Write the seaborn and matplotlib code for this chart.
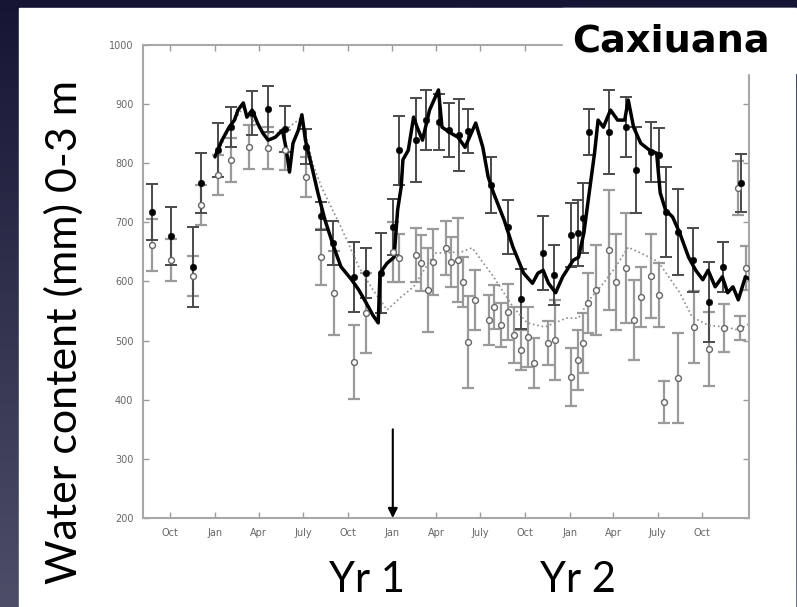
import numpy as np
import pandas as pd
import seaborn as sns
import matplotlib.pyplot as plt
import matplotlib.dates as mdates
from matplotlib.patches import Rectangle

# ==============================================================================
# DADOS - tempo em ano decimal, agua em mm (0-3 m)
# ==============================================================================

# linha continua - parcela controle
ctrl_line_t = [2001.00, 2001.04, 2001.08, 2001.11, 2001.13, 2001.16, 2001.18, 2001.21,
               2001.24, 2001.27, 2001.30, 2001.34, 2001.38, 2001.40, 2001.42, 2001.44,
               2001.47, 2001.49, 2001.51, 2001.55, 2001.58, 2001.62, 2001.67, 2001.71,
               2001.77, 2001.81, 2001.85, 2001.89, 2001.92, 2001.93, 2001.97, 2002.01,
               2002.03, 2002.05, 2002.06, 2002.09, 2002.12, 2002.14, 2002.17, 2002.21,
               2002.26, 2002.28, 2002.33, 2002.37, 2002.41, 2002.47, 2002.51, 2002.54,
               2002.57, 2002.63, 2002.68, 2002.74, 2002.79, 2002.82, 2002.85, 2002.88,
               2002.92, 2002.96, 2003.02, 2003.05, 2003.08, 2003.11, 2003.14, 2003.16,
               2003.19, 2003.23, 2003.27, 2003.31, 2003.33, 2003.36, 2003.40, 2003.45,
               2003.49, 2003.51, 2003.54, 2003.58, 2003.62, 2003.67, 2003.71, 2003.75,
               2003.78, 2003.82, 2003.86, 2003.89, 2003.92, 2003.95, 2003.99, 2004.02]
ctrl_line_mm = [811, 839, 861, 873, 890, 902, 878, 890,
                868, 851, 839, 844, 856, 827, 785, 834,
                856, 882, 839, 789, 750, 704, 658, 625,
                603, 586, 565, 543, 530, 614, 631, 641,
                721, 760, 806, 822, 878, 861, 839, 890,
                924, 861, 851, 844, 827, 868, 827, 777,
                750, 704, 658, 614, 597, 614, 619, 597,
                581, 608, 636, 641, 682, 750, 817, 873,
                861, 890, 873, 873, 907, 861, 834, 822,
                817, 750, 721, 709, 682, 641, 619, 603,
                619, 591, 608, 581, 591, 569, 608, 603]

# linha pontilhada - parcela de exclusao
excl_line_t = [2001.00, 2001.08, 2001.16, 2001.27, 2001.38, 2001.49, 2001.55, 2001.60,
               2001.71, 2001.81, 2001.89, 2001.97, 2002.00, 2002.05, 2002.12, 2002.18,
               2002.24, 2002.39, 2002.45, 2002.57, 2002.68, 2002.76, 2002.86, 2002.98,
               2003.05, 2003.11, 2003.19, 2003.26, 2003.33, 2003.45, 2003.50, 2003.62,
               2003.69, 2003.78, 2003.88, 2003.95, 2004.02]
excl_line_mm = [808, 858, 895, 850, 852, 878, 800, 760,
                692, 625, 586, 552, 560, 574, 591, 620,
                648, 650, 657, 608, 557, 530, 523, 538,
                538, 569, 597, 625, 658, 641, 633, 581,
                540, 526, 523, 518, 530]

# pontos manuais - controle (circulo cheio)
ctrl_pt_t = [2000.648, 2000.756, 2000.880, 2000.925, 2001.015, 2001.088, 2001.207, 2001.297,
             2001.393, 2001.511, 2001.596, 2001.664, 2001.782, 2001.850, 2001.934, 2002.002,
             2002.036, 2002.132, 2002.188, 2002.262, 2002.318, 2002.374, 2002.425, 2002.555,
             2002.651, 2002.724, 2002.848, 2002.910, 2003.006, 2003.046, 2003.074, 2003.108,
             2003.220, 2003.316, 2003.373, 2003.457, 2003.502, 2003.542, 2003.610, 2003.694,
             2003.784, 2003.863, 2003.965]
ctrl_pt_mm = [718, 677, 625, 767, 822, 861, 885, 892,
              858, 828, 711, 665, 608, 614, 614, 692,
              822, 839, 873, 870, 856, 848, 855, 763,
              692, 570, 648, 611, 679, 682, 707, 853,
              853, 861, 789, 819, 814, 718, 684, 636,
              565, 625, 767]
ctrl_pt_err = [47, 49, 68, 51, 46, 34, 37, 39,
               39, 30, 24, 37, 59, 42, 68, 47,
               58, 71, 51, 47, 46, 61, 37, 47,
               46, 51, 63, 51, 54, 56, 59, 39,
               71, 51, 73, 51, 46, 76, 73, 54,
               68, 42, 49]

# pontos manuais - exclusao (circulo aberto)
excl_pt_t = [2000.648, 2000.756, 2000.880, 2000.925, 2001.015, 2001.088, 2001.190, 2001.297,
             2001.393, 2001.511, 2001.596, 2001.669, 2001.782, 2001.850, 2002.002, 2002.036,
             2002.132, 2002.160, 2002.200, 2002.228, 2002.301, 2002.329, 2002.369, 2002.397,
             2002.425, 2002.465, 2002.544, 2002.572, 2002.611, 2002.651, 2002.685, 2002.724,
             2002.764, 2002.797, 2002.876, 2002.916, 2003.006, 2003.046, 2003.074, 2003.102,
             2003.147, 2003.220, 2003.260, 2003.316, 2003.361, 2003.401, 2003.457, 2003.502,
             2003.531, 2003.610, 2003.700, 2003.784, 2003.869, 2003.948, 2003.959, 2003.993]
excl_pt_mm = [662, 636, 609, 729, 780, 806, 828, 826,
              822, 777, 641, 581, 464, 547, 650, 640,
              645, 631, 586, 633, 657, 633, 636, 599,
              498, 569, 535, 557, 526, 548, 510, 484,
              506, 462, 496, 501, 439, 467, 496, 564,
              586, 653, 599, 623, 535, 574, 609, 577,
              396, 437, 523, 486, 521, 758, 521, 623]
excl_pt_err = [44, 36, 34, 34, 34, 37, 37, 36,
               34, 34, 47, 71, 63, 68, 51, 41,
               46, 47, 71, 56, 46, 42, 71, 42,
               78, 51, 42, 37, 37, 47, 47, 34,
               51, 42, 37, 68, 49, 51, 51, 51,
               76, 101, 81, 93, 68, 51, 71, 54,
               36, 76, 61, 63, 41, 46, 20, 37]

Y_TICKS = [200, 300, 400, 500, 600, 700, 800, 900, 1000]
X_TICKS = ["2000-10-01", "2001-01-01", "2001-04-01", "2001-07-01",
           "2001-10-01", "2002-01-01", "2002-04-01", "2002-07-01",
           "2002-10-01", "2003-01-01", "2003-04-01", "2003-07-01", "2003-10-01"]
X_LABELS = ["Oct", "Jan", "Apr", "July", "Oct", "Jan", "Apr", "July",
            "Oct", "Jan", "Apr", "July", "Oct"]


def to_date(years):
    out = []
    for y in years:
        base = int(y)
        out.append(pd.Timestamp(f"{base}-01-01") + pd.Timedelta(days=(y - base) * 365.25))
    return out


# ==============================================================================
# FIGURA
# ==============================================================================

sns.set_style("ticks")
plt.rcParams['font.family'] = ['DejaVu Sans']

W, H = 797, 607
fig = plt.figure(figsize=(W / 100, H / 100), dpi=100)

# fundo do slide (gradiente azul escuro) + painel branco
bg = fig.add_axes([0, 0, 1, 1], zorder=-10)
grad = np.linspace(0, 1, 256).reshape(-1, 1)
top_c = np.array([22, 22, 52]) / 255
bot_c = np.array([76, 78, 104]) / 255
img = top_c + grad[..., None] * (bot_c - top_c)
bg.imshow(img, aspect="auto", extent=[0, 1, 0, 1], origin="upper")
bg.add_patch(Rectangle((19 / W, 0), (795 - 19) / W, (H - 8) / H, color="white"))
bg.set_xlim(0, 1)
bg.set_ylim(0, 1)
bg.axis("off")

ax = fig.add_axes([143 / W, 1 - 518 / H, (749 - 143) / W, (518 - 45) / H])
ax.set_facecolor("white")

df_ctrl_line = pd.DataFrame({"data": to_date(ctrl_line_t), "agua": ctrl_line_mm})
df_excl_line = pd.DataFrame({"data": to_date(excl_line_t), "agua": excl_line_mm})
df_ctrl_pt = pd.DataFrame({"data": to_date(ctrl_pt_t), "agua": ctrl_pt_mm, "err": ctrl_pt_err})
df_excl_pt = pd.DataFrame({"data": to_date(excl_pt_t), "agua": excl_pt_mm, "err": excl_pt_err})

# barras de erro
ax.errorbar(df_excl_pt["data"], df_excl_pt["agua"], yerr=df_excl_pt["err"], fmt="none",
            ecolor="#9a9a9a", elinewidth=1.6, capsize=4, capthick=1.6, zorder=1)
ax.errorbar(df_ctrl_pt["data"], df_ctrl_pt["agua"], yerr=df_ctrl_pt["err"], fmt="none",
            ecolor="#4a4a4a", elinewidth=1.4, capsize=4, capthick=1.4, zorder=2)

# linhas continuas
sns.lineplot(data=df_excl_line, x="data", y="agua", ax=ax, color="#8c8c8c",
             linewidth=1.2, linestyle=":", zorder=2)
sns.lineplot(data=df_ctrl_line, x="data", y="agua", ax=ax, color="black",
             linewidth=2.5, zorder=3)

# pontos
sns.scatterplot(data=df_excl_pt, x="data", y="agua", ax=ax, marker="o", s=18,
                facecolor="white", edgecolor="#666666", linewidth=1.0, zorder=4)
sns.scatterplot(data=df_ctrl_pt, x="data", y="agua", ax=ax, marker="o", s=22,
                color="black", edgecolor="black", zorder=5)

ax.set_xlim(pd.Timestamp("2000-08-06"), pd.Timestamp("2004-01-05"))
ax.set_ylim(200, 1000)
ax.set_yticks(Y_TICKS)
ax.set_yticklabels([str(v) for v in Y_TICKS])
ax.set_xticks([mdates.date2num(pd.Timestamp(d)) for d in X_TICKS])
ax.set_xticklabels(X_LABELS)
ax.set_xlabel("")
ax.set_ylabel("")
ax.tick_params(direction="in", length=4, width=1, color="#9a9a9a",
               labelsize=7, labelcolor="#666666", top=True, right=True, pad=7)
for s in ax.spines.values():
    s.set_color("#a8a8a8")
    s.set_linewidth(1.5)

# seta no inicio da exclusao
ax.annotate("", xy=(pd.Timestamp("2002-01-02"), 200), xytext=(pd.Timestamp("2002-01-02"), 350),
            arrowprops=dict(arrowstyle="-|>", color="black", lw=1.5, mutation_scale=14,
                            shrinkA=0, shrinkB=0), zorder=6)

# caixa branca atras do titulo (corta o quadro)
fig.patches.append(Rectangle((563 / W, 1 - 73 / H), (796 - 563) / W, (73 - 8) / H,
                             transform=fig.transFigure, color="white", zorder=2))

fig.text(671 / W, 1 - 41 / H, "Caxiuana", ha="center", va="center", fontsize=27.5,
         fontweight="bold", family=["DejaVu Sans"], color="black", zorder=3)
fig.text(64 / W, 1 - 332 / H, "Water content (mm) 0-3 m", ha="center", va="center",
         rotation=90, fontsize=31, family=["Lato", "DejaVu Sans"], color="black")
fig.text(367 / W, 1 - 580 / H, "Yr 1", ha="center", va="center", fontsize=30,
         family=["Lato", "DejaVu Sans"], color="black")
fig.text(578 / W, 1 - 580 / H, "Yr 2", ha="center", va="center", fontsize=30,
         family=["Lato", "DejaVu Sans"], color="black")

fig.savefig("out.png", dpi=100)
plt.close(fig)
